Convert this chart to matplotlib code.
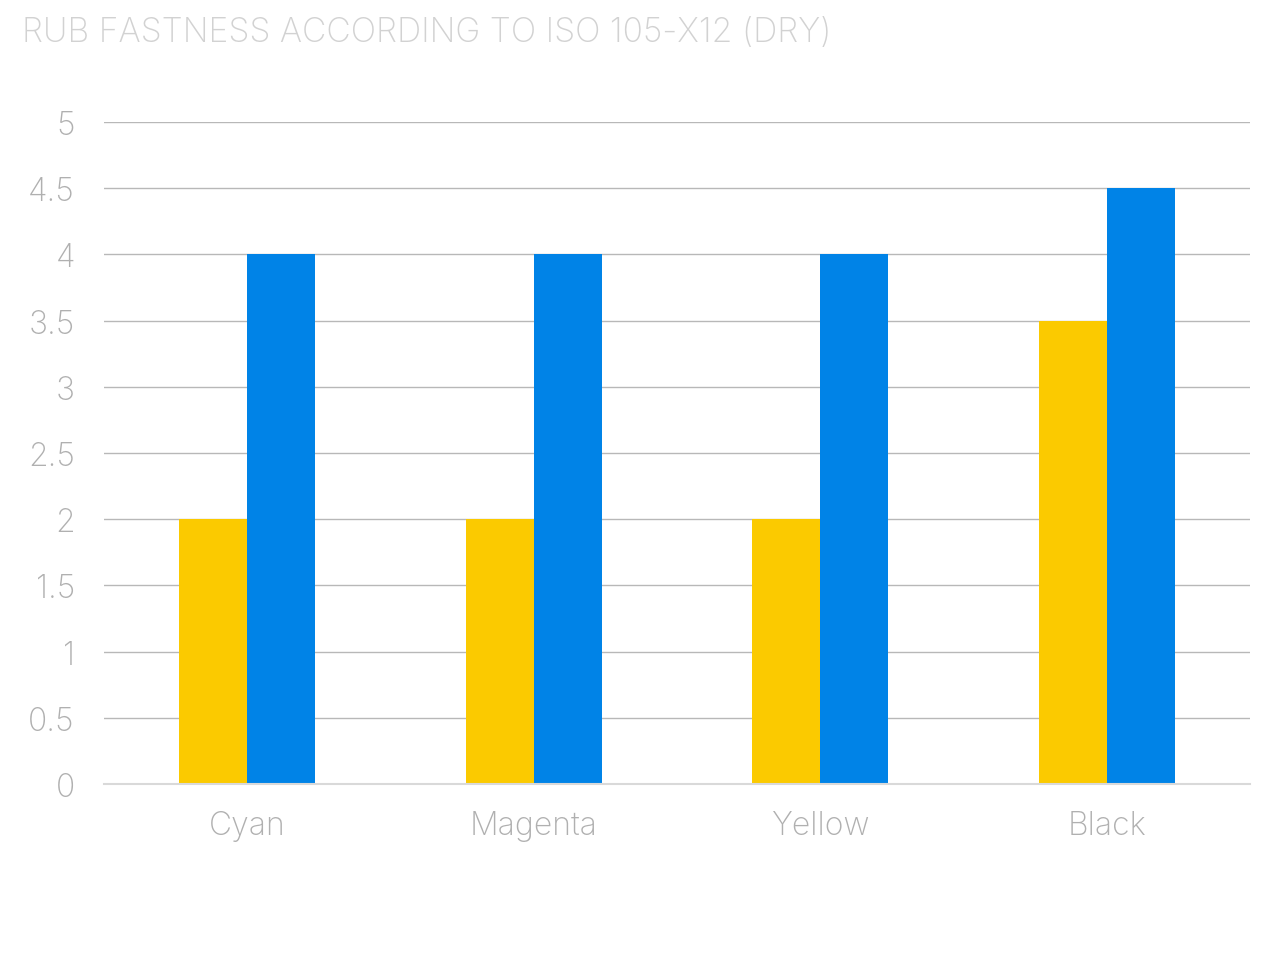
import numpy as np
import matplotlib.pyplot as plt

categories = ['Cyan', 'Magenta', 'Yellow', 'Black']
series_a = [2, 2, 2, 3.5]
series_b = [4, 4, 4, 4.5]
yticks = [0, 0.5, 1, 1.5, 2, 2.5, 3, 3.5, 4, 4.5, 5]
ytick_labels = ['0', '0.5', '1', '1.5', '2', '2.5', '3', '3.5', '4', '4.5', '5']

plt.rcParams['font.family'] = ['Inter', 'DejaVu Sans']

fig = plt.figure(figsize=(12.8, 9.78), dpi=100)
ax = fig.add_axes([104/1280, 1 - 785/978, 1146/1280, 662/978])

x = np.arange(len(categories))
w = 0.238
ax.bar(x - w/2, series_a, width=w, color='#FBCA00', zorder=3)
ax.bar(x + w/2, series_b, width=w, color='#0083E7', zorder=3)

ax.set_xlim(-0.5, 3.5)
ax.set_ylim(0, 5)
ax.set_yticks(yticks)
ax.set_yticklabels(ytick_labels)
ax.set_xticks(x)
ax.set_xticklabels(categories)
ax.yaxis.grid(True, color='#b8b8b8', linewidth=1.0, zorder=0)
ax.tick_params(axis='both', length=0, labelsize=23, labelcolor='#b0b0b0',
               labelfontfamily='Inter')
ax.tick_params(axis='y', pad=21)
ax.tick_params(axis='x', pad=19)
for lab in ax.get_xticklabels() + ax.get_yticklabels():
    lab.set_fontweight('light')
for s in ['top', 'right', 'left']:
    ax.spines[s].set_visible(False)
ax.spines['bottom'].set_color('#d9d9d9')
ax.spines['bottom'].set_linewidth(1.5)
ax.spines['bottom'].set_zorder(4)

fig.text(22/1280, 1 - 33/978, 'RUB FASTNESS ACCORDING TO ISO 105-X12 (DRY)',
         fontsize=24.3, color='#d2d2d2', fontweight='light', va='center', ha='left')

fig.savefig('out.png', dpi=100)
